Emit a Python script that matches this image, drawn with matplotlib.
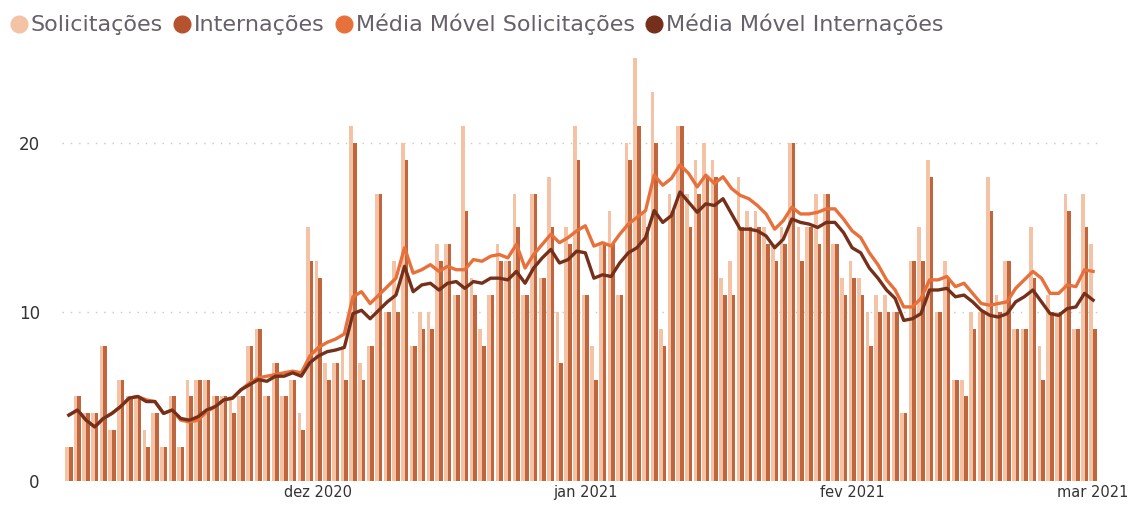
import matplotlib.pyplot as plt
import matplotlib.dates as mdates
from matplotlib.lines import Line2D
import numpy as np
import pandas as pd

plt.rcParams['font.family'] = ['DejaVu Sans']

# daily values, 2 Nov 2020 .. 1 Mar 2021
datas = pd.date_range('2020-11-02', '2021-03-01', freq='D')

solicitacoes = [2, 5, 4, 4, 8, 3, 6, 5, 5, 3, 4, 2, 5, 2, 6, 6, 6, 5, 5, 5,
                5, 8, 9, 5, 7, 5, 6, 4, 15, 13, 7, 7, 8, 21, 7, 8, 17, 10, 13, 20,
                8, 10, 10, 14, 14, 11, 21, 12, 9, 11, 14, 13, 17, 11, 17, 12, 18, 10, 15, 21,
                11, 8, 14, 16, 11, 20, 25, 16, 23, 9, 17, 21, 17, 19, 20, 19, 12, 13, 18, 16,
                16, 15, 14, 15, 20, 15, 15, 17, 17, 14, 12, 13, 12, 10, 11, 11, 10, 4, 13, 15,
                19, 10, 13, 6, 6, 10, 10, 18, 11, 13, 9, 9, 15, 8, 11, 10, 17, 9, 17, 14]
internacoes = [2, 5, 4, 4, 8, 3, 6, 5, 5, 2, 4, 2, 5, 2, 5, 6, 6, 5, 5, 4,
               5, 8, 9, 5, 7, 5, 6, 3, 13, 12, 6, 7, 6, 20, 6, 8, 17, 10, 10, 19,
               8, 9, 9, 13, 14, 11, 16, 11, 8, 11, 13, 13, 15, 11, 17, 12, 15, 7, 14, 19,
               11, 6, 14, 14, 11, 19, 21, 15, 20, 8, 16, 21, 15, 17, 18, 18, 11, 11, 15, 15,
               15, 14, 13, 14, 20, 13, 15, 14, 17, 14, 11, 12, 11, 8, 10, 10, 10, 4, 13, 13,
               18, 10, 12, 6, 5, 9, 10, 16, 10, 13, 9, 9, 12, 6, 10, 10, 16, 9, 15, 9]
media_solicitacoes = [3.9, 4.2, 3.6, 3.2, 3.7, 4.0, 4.4, 4.9, 5.0, 4.8, 4.7, 4.0, 4.2, 3.6, 3.5, 3.6, 4.1, 4.4, 4.8, 4.9,
                      5.4, 5.8, 6.1, 6.2, 6.3, 6.4, 6.5, 6.4, 7.4, 7.9, 8.2, 8.4, 8.7, 10.9, 11.2, 10.5, 11.0, 11.5, 12.0, 13.8,
                      12.3, 12.5, 12.8, 12.4, 12.7, 12.5, 12.5, 13.1, 13.0, 13.3, 13.4, 13.2, 14.0, 12.6, 13.4, 14.0, 14.6, 14.1, 14.4, 14.8,
                      15.1, 13.9, 14.1, 13.9, 14.6, 15.2, 15.6, 16.0, 18.1, 17.5, 17.9, 18.7, 18.2, 17.4, 18.1, 17.6, 18.0, 17.3, 16.9, 16.7,
                      16.3, 15.8, 14.9, 15.4, 16.2, 15.8, 15.8, 15.9, 16.1, 16.1, 15.5, 14.8, 14.4, 13.5, 12.8, 11.9, 11.3, 10.3, 10.3, 10.8,
                      11.9, 11.9, 12.1, 11.5, 11.7, 11.1, 10.5, 10.4, 10.5, 10.6, 11.4, 11.9, 12.4, 12.0, 11.1, 11.1, 11.6, 11.5, 12.5, 12.4]
media_internacoes = [3.9, 4.2, 3.6, 3.2, 3.7, 4.0, 4.4, 4.9, 5.0, 4.7, 4.7, 4.0, 4.2, 3.7, 3.6, 3.8, 4.2, 4.4, 4.8, 4.9,
                     5.4, 5.7, 6.0, 5.9, 6.2, 6.2, 6.4, 6.2, 7.0, 7.4, 7.65, 7.75, 7.9, 9.9, 10.1, 9.6, 10.1, 10.6, 11.0, 12.7,
                     11.2, 11.6, 11.7, 11.3, 11.7, 11.8, 11.4, 11.8, 11.7, 12.0, 12.0, 11.9, 12.4, 11.7, 12.6, 13.2, 13.7, 12.9, 13.1, 13.6,
                     13.5, 12.0, 12.2, 12.1, 12.9, 13.5, 13.8, 14.4, 16.0, 15.3, 15.7, 17.1, 16.5, 15.9, 16.4, 16.3, 16.7, 15.8, 14.9, 14.9,
                     14.8, 14.5, 13.8, 14.3, 15.5, 15.3, 15.2, 15.0, 15.3, 15.3, 14.7, 13.8, 13.5, 12.6, 12.0, 11.3, 10.8, 9.5, 9.6, 9.9,
                     11.3, 11.3, 11.4, 10.9, 11.0, 10.6, 10.1, 9.8, 9.7, 9.9, 10.6, 10.9, 11.3, 10.6, 9.9, 9.8, 10.2, 10.3, 11.1, 10.7]

meses = ['2020-12-01', '2021-01-01', '2021-02-01', '2021-03-01']
rotulos_meses = ['dez 2020', 'jan 2021', 'fev 2021', 'mar 2021']

cor_sol = '#F4C3A6'
cor_int = '#C0663F'
cor_mm_sol = '#E8703A'
cor_mm_int = '#74301A'
cor_texto = '#66606A'

x = mdates.date2num(datas)

fig = plt.figure(figsize=(11.38, 5.05), dpi=100)
ax = fig.add_axes([62/1138, 24/505, 1038/1138, 431/505])

w = 0.42
ax.bar(x - w/2, solicitacoes, width=w, color=cor_sol, zorder=2)
ax.bar(x + w/2, internacoes, width=w, color=cor_int, zorder=2)
ax.plot(x, media_solicitacoes, color=cor_mm_sol, lw=2.4, zorder=3, solid_joinstyle='round')
ax.plot(x, media_internacoes, color=cor_mm_int, lw=2.4, zorder=4, solid_joinstyle='round')

ax.set_xlim(x[0] - 0.8, x[-1] + 0.8)
ax.set_ylim(0, 25.5)
ax.set_yticks([0, 10, 20])
ax.set_xticks(mdates.date2num(pd.to_datetime(meses)))
ax.set_xticklabels(rotulos_meses)
ax.tick_params(axis='both', length=0)
ax.tick_params(axis='y', labelsize=12, pad=16, labelcolor='#333333')
ax.tick_params(axis='x', labelsize=10.5, pad=3, labelcolor='#333333')
for s in ax.spines.values():
    s.set_visible(False)
ax.set_axisbelow(True)
ax.grid(axis='y', color='#C8C8C8', linestyle=(0, (1, 5)), lw=1)
ax.yaxis.get_gridlines()[0].set_visible(False)

handles = [Line2D([], [], ls='', marker='o', ms=12, color=c)
           for c in [cor_sol, '#B5532E', cor_mm_sol, cor_mm_int]]
labels = ['Solicitações', 'Internações', 'Média Móvel Solicitações', 'Média Móvel Internações']
fig.legend(handles, labels, loc='upper left', bbox_to_anchor=(-0.011, 1.012), ncol=4,
           frameon=False, fontsize=16, handletextpad=0.05, columnspacing=0.35,
           handlelength=1.0, labelcolor=cor_texto)

fig.savefig('out.png', dpi=100)
